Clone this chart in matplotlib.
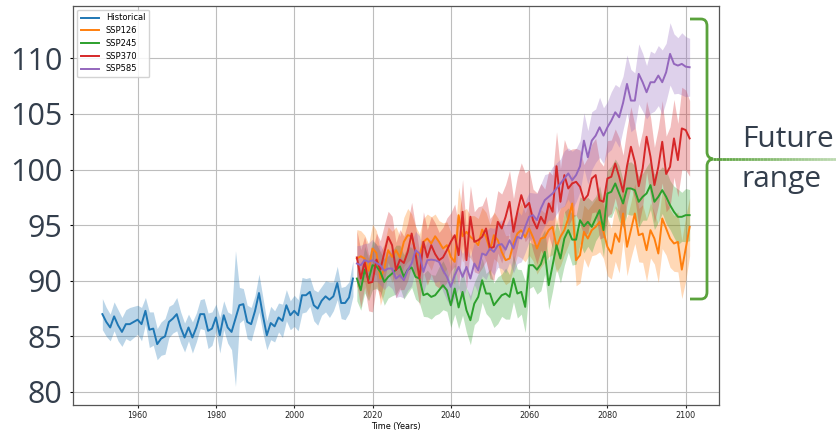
import numpy as np
import matplotlib
matplotlib.use("Agg")
import matplotlib.pyplot as plt
from matplotlib.path import Path
from matplotlib.patches import PathPatch
from matplotlib.collections import LineCollection

# ---- data ----
hist_years = list(range(1951, 2016))
hist = [87.0, 86.3, 85.8, 86.8, 86.0, 85.4, 86.1, 86.1, 86.3, 86.5,
        86.1, 87.3, 85.6, 85.7, 84.3, 84.8, 85.0, 86.3, 86.6, 87.0,
        85.8, 84.9, 85.8, 84.9, 85.8, 87.0, 87.0, 85.5, 85.7, 86.7,
        85.1, 86.9, 85.8, 85.4, 86.6, 87.8, 87.9, 86.3, 86.1, 87.3,
        88.9, 86.9, 85.1, 86.2, 85.9, 86.7, 86.4, 87.8, 86.9, 87.3,
        86.9, 88.7, 88.7, 89.0, 87.8, 87.5, 88.2, 88.6, 88.3, 88.6,
        89.8, 88.0, 88.0, 88.5, 90.2]
hist_spread = [1.4, 1.3, 1.2, 1.3, 1.4, 1.3, 1.3, 1.5, 1.4, 1.3,
               1.5, 1.2, 1.6, 1.5, 1.4, 1.5, 1.6, 1.4, 1.3, 1.5,
               1.4, 1.3, 1.2, 1.4, 1.3, 1.3, 1.4, 1.6, 1.5, 1.2,
               1.6, 1.3, 1.4, 1.6, 6.1, 1.6, 1.4, 1.5, 1.5, 1.4,
               1.7, 1.6, 1.3, 1.5, 1.4, 1.3, 1.5, 1.4, 1.3, 1.4,
               1.4, 1.6, 1.5, 1.3, 1.4, 1.5, 1.3, 1.4, 1.6, 1.3,
               1.5, 1.4, 1.5, 1.4, 1.6]

fut_years = list(range(2016, 2102))
ssp126 = [92.0, 92.2, 92.0, 90.9, 92.9, 92.5, 90.2, 91.1, 92.75, 92.15,
          92.75, 92.1, 93.5, 94.1, 94.0, 92.6, 92.3, 93.5, 93.8, 93.35,
          94.0, 93.5, 92.9, 93.2, 92.15, 91.7, 95.9, 94.0, 94.4, 93.95,
          93.65, 93.2, 94.6, 93.95, 92.75, 94.1, 93.65, 92.6, 91.85, 92.0,
          93.35, 94.25, 94.55, 93.9, 94.7, 93.9, 92.9, 93.8, 93.9, 94.55,
          94.85, 93.05, 93.95, 94.55, 95.6, 96.95, 91.85, 92.3, 94.4, 93.8,
          94.55, 94.85, 95.3, 94.4, 93.05, 92.45, 94.25, 93.5, 96.05, 93.05,
          94.55, 96.05, 94.1, 94.25, 92.75, 94.55, 93.8, 92.45, 95.6, 94.7,
          93.8, 93.35, 93.5, 91.0, 92.9, 94.85]
ssp245 = [90.2, 89.15, 91.0, 90.1, 91.4, 91.3, 90.8, 89.9, 90.35, 90.65,
          91.0, 91.3, 90.35, 91.0, 91.2, 90.35, 90.2, 88.7, 88.85, 88.55,
          88.7, 89.15, 89.6, 89.15, 87.8, 89.3, 87.6, 89.0, 87.35, 86.45,
          87.95, 88.55, 90.05, 88.85, 88.85, 87.8, 88.25, 88.7, 88.85, 88.55,
          90.2, 88.85, 89.0, 87.65, 91.4, 91.4, 91.0, 91.5, 92.6, 89.6,
          91.4, 93.2, 92.0, 93.8, 94.55, 93.7, 93.7, 95.45, 94.9, 95.3,
          94.85, 95.6, 96.35, 94.55, 97.85, 98.0, 98.75, 97.85, 96.95, 98.3,
          98.3, 98.15, 97.1, 97.55, 97.85, 98.6, 97.1, 97.55, 98.15, 97.55,
          96.8, 96.2, 95.75, 95.75, 95.9, 95.9]
ssp370 = [92.1, 90.2, 91.7, 89.8, 89.9, 91.9, 91.0, 92.5, 93.95, 93.2,
          90.95, 91.9, 91.6, 92.6, 94.25, 92.4, 90.2, 93.5, 92.1, 93.2,
          92.4, 91.85, 92.1, 92.75, 93.5, 94.1, 92.3, 96.2, 91.85, 95.75,
          93.5, 93.65, 93.95, 94.7, 92.9, 93.05, 95.3, 94.7, 95.75, 97.1,
          94.4, 96.2, 97.7, 96.6, 97.0, 95.45, 94.7, 95.75, 95.15, 96.95,
          96.2, 100.3, 97.1, 99.5, 98.3, 98.75, 98.9, 98.45, 97.25, 97.7,
          99.2, 99.5, 97.25, 97.1, 99.2, 99.35, 100.55, 99.35, 98.0, 100.3,
          102.05, 100.7, 98.5, 100.1, 102.95, 101.15, 98.6, 100.25, 102.5, 99.6,
          100.25, 102.8, 100.85, 103.7, 103.55, 102.8]
ssp585 = [91.55, 91.4, 91.85, 91.7, 91.85, 91.6, 91.4, 90.9, 91.1, 91.1,
          90.2, 90.5, 90.05, 90.95, 91.55, 92.75, 92.45, 90.8, 91.85, 91.9,
          91.85, 91.7, 90.95, 90.35, 89.45, 90.5, 91.25, 90.35, 91.25, 90.2,
          91.55, 90.95, 92.45, 92.3, 92.9, 92.6, 93.2, 93.3, 92.8, 93.65,
          92.9, 93.95, 93.8, 94.85, 95.75, 95.9, 95.45, 96.5, 97.25, 97.55,
          97.85, 98.3, 98.75, 99.2, 99.65, 99.05, 99.5, 100.3, 102.6, 101.1,
          102.6, 103.05, 103.8, 103.05, 103.8, 104.4, 105.15, 104.7, 106.0, 107.7,
          106.2, 106.2, 108.6, 107.85, 106.95, 107.85, 107.85, 108.45, 107.85, 108.75,
          110.4, 109.5, 109.35, 109.5, 109.25, 109.2]

ssp126_spread = [2.6, 2.3, 2.1, 2.4, 2.2, 2.0, 2.4, 2.2, 2.1, 2.3,
                 2.1, 1.9, 2.2, 2.4, 2.0, 2.3, 1.9, 2.1, 2.2, 2.4,
                 2.0, 1.9, 2.3, 2.1, 2.2, 2.0, 2.5, 2.3, 2.1, 1.9,
                 2.2, 2.4, 2.0, 2.2, 2.3, 2.1, 2.0, 2.4, 2.2, 2.1,
                 2.3, 2.0, 2.5, 2.2, 2.4, 2.1, 2.3, 2.6, 2.2, 2.4,
                 2.5, 2.3, 2.6, 2.2, 2.4, 2.7, 2.3, 2.5, 2.4, 2.6,
                 2.3, 2.5, 2.7, 2.4, 2.6, 2.3, 2.5, 2.8, 2.4, 2.6,
                 2.5, 2.7, 2.4, 2.6, 2.8, 2.5, 2.3, 2.6, 2.7, 2.4,
                 2.6, 2.5, 2.7, 2.6, 2.9, 2.6]
ssp245_spread = [2.0, 1.8, 2.1, 1.9, 2.2, 2.0, 1.8, 2.1, 1.9, 2.0,
                 2.2, 1.9, 2.0, 2.1, 1.8, 2.0, 2.2, 1.9, 2.1, 2.0,
                 1.8, 2.1, 2.2, 1.9, 2.0, 2.3, 1.9, 2.1, 2.0, 2.2,
                 1.9, 2.1, 2.0, 1.8, 2.2, 2.0, 2.1, 1.9, 2.3, 2.0,
                 2.1, 2.2, 2.0, 2.3, 2.1, 1.9, 2.2, 2.4, 2.0, 2.2,
                 2.3, 2.1, 2.2, 2.4, 2.0, 2.3, 2.2, 2.1, 2.4, 2.2,
                 2.3, 2.0, 2.2, 2.4, 2.1, 2.3, 2.2, 2.5, 2.1, 2.3,
                 2.4, 2.2, 2.3, 2.1, 2.4, 2.2, 2.5, 2.3, 2.1, 2.4,
                 2.2, 2.3, 2.5, 2.2, 2.4, 2.3]
ssp370_spread = [2.4, 2.6, 2.3, 2.5, 2.7, 2.4, 2.6, 2.5, 2.3, 2.6,
                 2.5, 2.7, 2.4, 2.6, 2.8, 2.5, 2.4, 2.7, 2.5, 2.6,
                 2.8, 2.5, 2.7, 2.9, 2.6, 2.8, 2.7, 2.9, 2.6, 2.8,
                 2.7, 3.0, 2.8, 2.9, 2.7, 3.0, 2.8, 3.1, 2.9, 2.8,
                 3.0, 3.2, 2.9, 3.1, 3.0, 2.8, 3.2, 3.0, 3.1, 2.9,
                 3.3, 3.1, 3.0, 3.2, 3.4, 3.1, 3.0, 3.3, 3.2, 3.4,
                 3.1, 3.3, 3.5, 3.2, 3.4, 3.3, 3.1, 3.5, 3.3, 3.4,
                 3.6, 3.3, 3.5, 3.4, 3.2, 3.6, 3.4, 3.5, 3.7, 3.4,
                 3.6, 3.5, 3.3, 3.7, 3.6, 3.4]
ssp585_spread = [1.6, 1.8, 1.5, 1.7, 1.9, 1.6, 1.8, 1.7, 1.5, 1.8,
                 1.7, 1.9, 1.6, 1.8, 2.0, 1.7, 1.6, 1.9, 1.7, 1.8,
                 2.0, 1.7, 1.9, 2.1, 1.8, 2.0, 1.9, 2.1, 1.8, 2.0,
                 1.9, 2.1, 2.0, 2.2, 1.9, 2.1, 2.0, 2.2, 2.1, 2.0,
                 2.2, 2.4, 2.1, 2.3, 2.2, 2.0, 2.4, 2.2, 2.3, 2.1,
                 2.4, 2.3, 2.2, 2.5, 2.3, 2.6, 2.4, 2.3, 2.5, 2.4,
                 2.6, 2.4, 2.7, 2.5, 2.3, 2.6, 2.5, 2.7, 2.4, 2.6,
                 2.8, 2.5, 2.7, 2.6, 2.4, 2.8, 2.6, 2.7, 2.9, 2.6,
                 2.8, 2.7, 2.5, 2.8, 2.7, 2.6]

y_ticks = [80, 85, 90, 95, 100, 105, 110]
x_ticks = [1960, 1980, 2000, 2020, 2040, 2060, 2080, 2100]

W, H = 836, 432
TEXT = '#333e4c'
BRACE = '#5aa23c'

fig = plt.figure(figsize=(W / 100, H / 100), dpi=100)
ax = fig.add_axes([73 / W, 1 - 405 / H, (719 - 73) / W, (405 - 5.5) / H])


def band(x, y, s, color, label):
    y = np.array(y)
    s = np.array(s)
    ax.fill_between(x, y - s, y + s, color=color, alpha=0.3, lw=0)
    ax.plot(x, y, color=color, lw=1.4, label=label)


band(hist_years, hist, hist_spread, 'C0', 'Historical')
band(fut_years, ssp126, ssp126_spread, 'C1', 'SSP126')
band(fut_years, ssp245, ssp245_spread, 'C2', 'SSP245')
band(fut_years, ssp370, ssp370_spread, 'C3', 'SSP370')
band(fut_years, ssp585, ssp585_spread, 'C4', 'SSP585')

ax.set_xlim(1943.5, 2108.5)
ax.set_ylim(78.83, 114.75)
ax.set_xticks(x_ticks)
ax.set_yticks(y_ticks)
ax.grid(True, color='#bdbdbd', lw=0.8)
ax.set_axisbelow(True)
for sp in ax.spines.values():
    sp.set_color('#555555')
    sp.set_linewidth(0.9)

ax.tick_params(axis='x', labelsize=5.8, length=2.5, pad=2, colors='#222222')
ax.tick_params(axis='y', labelsize=22, labelcolor=TEXT, length=2.5, pad=5)
for lab in ax.get_yticklabels():
    lab.set_fontfamily('Open Sans')
ax.set_xlabel('Time (Years)', fontsize=5.8, labelpad=1.5)

ax.legend(loc='upper left', fontsize=6, framealpha=0.85, borderpad=0.45,
          labelspacing=0.45, handlelength=2.2)


# curly bracket on the right, drawn in pixel space
def fx(px):
    return px / W


def fy(py):
    return 1 - py / H


verts = [(690, 19), (701, 19), (707, 19), (707, 26),
         (707, 152), (707, 158), (713, 159),
         (707, 160), (707, 166),
         (707, 292), (707, 299), (701, 299), (690, 299)]
codes = [Path.MOVETO, Path.LINETO, Path.CURVE3, Path.CURVE3,
         Path.LINETO, Path.CURVE3, Path.CURVE3,
         Path.CURVE3, Path.CURVE3,
         Path.LINETO, Path.CURVE3, Path.CURVE3, Path.LINETO]
brace = Path([(fx(x), fy(y)) for x, y in verts], codes)
fig.add_artist(PathPatch(brace, fill=False, edgecolor=BRACE, lw=2.0,
                         transform=fig.transFigure, capstyle='butt'))

xs = np.linspace(713, 836, 40)
segs = [[(fx(a), fy(159)), (fx(b), fy(159))] for a, b in zip(xs[:-1], xs[1:])]
alphas = np.linspace(1.0, 0.4, len(segs))
cols = [matplotlib.colors.to_rgba(BRACE, a) for a in alphas]
fig.add_artist(LineCollection(segs, colors=cols, linewidths=2.0,
                              transform=fig.transFigure))

fig.text(fx(742), fy(147), 'Future', fontsize=21.5, color=TEXT,
         family='Open Sans', va='baseline', ha='left')
fig.text(fx(742), fy(187), 'range', fontsize=21.5, color=TEXT,
         family='Open Sans', va='baseline', ha='left')

fig.savefig('out.png', dpi=100)
